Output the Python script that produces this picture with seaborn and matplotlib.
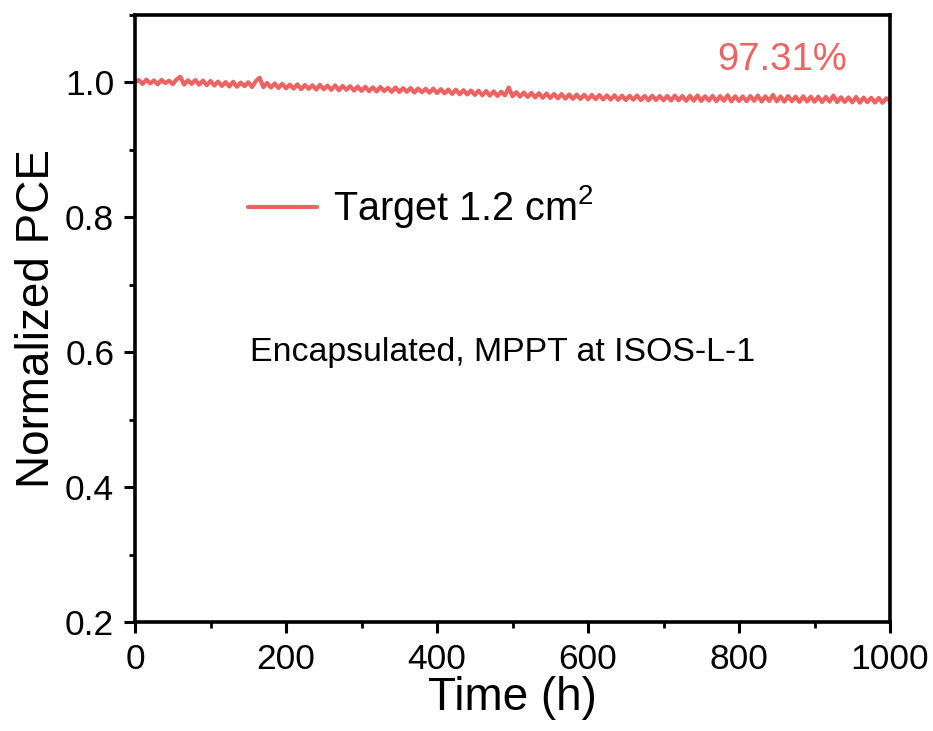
import numpy as np
import pandas as pd
import matplotlib
matplotlib.use("Agg")
import matplotlib.pyplot as plt
import seaborn as sns
from matplotlib.ticker import MultipleLocator

# ---- data ----
time_h = np.arange(0, 1001, 5)
pce = [
    1.0000, 1.0035, 0.9978, 1.0041, 0.9985, 1.0030, 0.9972, 1.0038, 0.9990, 1.0026, 0.9975,
    1.0044, 1.0085, 0.9968, 1.0032, 0.9979, 1.0036, 0.9966, 1.0028, 0.9960, 1.0022,
    0.9955, 1.0012, 0.9948, 1.0005, 0.9940, 1.0010, 0.9936, 0.9998, 0.9945, 1.0003,
    0.9932, 1.0020, 1.0070, 0.9930, 0.9992, 0.9925, 0.9985, 0.9918, 0.9980, 0.9912,
    0.9968, 0.9908, 0.9972, 0.9900, 0.9962, 0.9905, 0.9958, 0.9895, 0.9965, 0.9898,
    0.9952, 0.9890, 0.9956, 0.9885, 0.9948, 0.9892, 0.9945, 0.9880, 0.9940, 0.9875,
    0.9935, 0.9870, 0.9928, 0.9865, 0.9932, 0.9872, 0.9920, 0.9860, 0.9925, 0.9858,
    0.9915, 0.9862, 0.9918, 0.9850, 0.9910, 0.9855, 0.9905, 0.9848, 0.9908, 0.9842,
    0.9900, 0.9838, 0.9895, 0.9830, 0.9892, 0.9825, 0.9885, 0.9822, 0.9880, 0.9815,
    0.9878, 0.9810, 0.9872, 0.9805, 0.9868, 0.9800, 0.9862, 0.9808, 0.9925, 0.9795,
    0.9855, 0.9790, 0.9850, 0.9785, 0.9845, 0.9778, 0.9840, 0.9772, 0.9835, 0.9770,
    0.9830, 0.9765, 0.9828, 0.9760, 0.9822, 0.9758, 0.9820, 0.9755, 0.9818, 0.9750,
    0.9815, 0.9752, 0.9812, 0.9748, 0.9808, 0.9745, 0.9810, 0.9742, 0.9805, 0.9740,
    0.9802, 0.9745, 0.9806, 0.9738, 0.9800, 0.9735, 0.9803, 0.9740, 0.9798, 0.9736,
    0.9800, 0.9732, 0.9805, 0.9735, 0.9798, 0.9728, 0.9802, 0.9730, 0.9808, 0.9725,
    0.9795, 0.9730, 0.9800, 0.9722, 0.9797, 0.9728, 0.9810, 0.9720, 0.9795, 0.9725,
    0.9792, 0.9722, 0.9798, 0.9728, 0.9805, 0.9718, 0.9795, 0.9725, 0.9815, 0.9720,
    0.9792, 0.9715, 0.9798, 0.9722, 0.9790, 0.9712, 0.9795, 0.9718, 0.9788, 0.9715,
    0.9790, 0.9710, 0.9785, 0.9715, 0.9805, 0.9708, 0.9780, 0.9712, 0.9778, 0.9705,
    0.9785, 0.9700, 0.9775, 0.9708, 0.9772, 0.9702, 0.9770, 0.9698, 0.9765, 0.9731,
]
series_label = "Target 1.2 cm$^{2}$"
retention_text = "97.31%"
condition_text = "Encapsulated, MPPT at ISOS-L-1"
x_ticks = [0, 200, 400, 600, 800, 1000]
y_ticks = [0.2, 0.4, 0.6, 0.8, 1.0]

df = pd.DataFrame({"Time (h)": time_h, "Normalized PCE": pce})

sns.set_theme(style="white")
plt.rcParams["font.family"] = ["Liberation Sans", "DejaVu Sans"]
plt.rcParams["mathtext.default"] = "regular"
plt.rcParams["text.color"] = "black"
plt.rcParams["axes.labelcolor"] = "black"

color = "#EF6262"

fig = plt.figure(figsize=(9.33, 7.31), dpi=100)
ax = fig.add_axes([135 / 933, 1 - 622 / 731, 755 / 933, 607 / 731])

sns.lineplot(data=df, x="Time (h)", y="Normalized PCE", ax=ax, color=color,
             linewidth=3.0, label=series_label)

ax.set_xlim(0, 1000)
ax.set_ylim(0.2, 1.1)
ax.set_xticks(x_ticks)
ax.set_yticks(y_ticks)
ax.set_xticklabels([str(t) for t in x_ticks])
ax.set_yticklabels([f"{t:.1f}" for t in y_ticks])
ax.xaxis.set_minor_locator(MultipleLocator(100))
ax.yaxis.set_minor_locator(MultipleLocator(0.1))

ax.tick_params(which="major", direction="out", length=8, width=2.2, labelsize=25.5,
               colors="black", labelcolor="black", pad=7,
               bottom=True, left=True, top=False, right=False)
ax.tick_params(which="minor", direction="out", length=4, width=2.0, colors="black",
               bottom=True, left=True, top=False, right=False)
for s in ax.spines.values():
    s.set_linewidth(2.6)
    s.set_color("black")
    s.set_visible(True)

ax.set_xlabel("Time (h)", fontsize=33, labelpad=0, color="black")
ax.set_ylabel("Normalized PCE", fontsize=33, labelpad=4, color="black")

ax.text(771, 1.034, retention_text, color=color, fontsize=27.5, va="center", ha="left")
ax.text(152, 0.6, condition_text, color="black", fontsize=24.4, va="center", ha="left")

leg = ax.legend(loc="center left", bbox_to_anchor=(0.1497, 0.6837), frameon=False,
                fontsize=28.5, handlelength=1.75, handletextpad=0.4,
                borderpad=0, borderaxespad=0)
for t in leg.get_texts():
    t.set_color("black")
for line in leg.get_lines():
    line.set_linewidth(3)

fig.savefig("out.png", dpi=100)
